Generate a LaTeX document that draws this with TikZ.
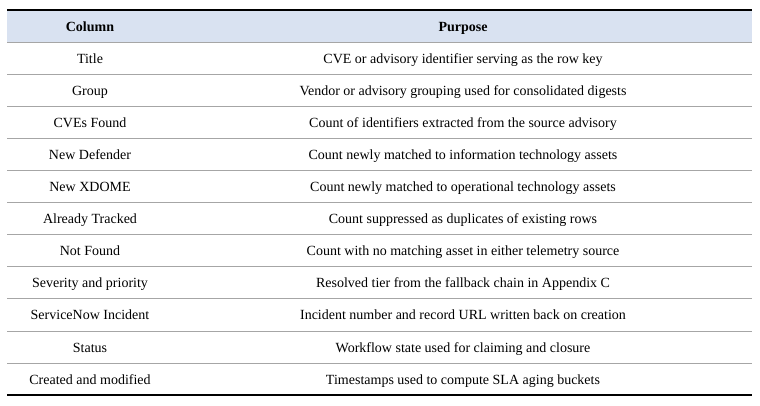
\documentclass[tikz,border=0pt]{standalone}
\usepackage{fontspec}
\setmainfont{Liberation Serif}
\definecolor{hdr}{HTML}{D9E2F1}
\definecolor{rule}{HTML}{A6A6A6}
\begin{document}
\begin{tikzpicture}[x=1pt,y=-1pt,
  txt/.style={font=\fontsize{14}{16}\selectfont,inner sep=0pt,anchor=base},
  hd/.style={txt,font=\fontsize{14}{16}\selectfont\bfseries}]
\useasboundingbox (0,0) rectangle (760,405);
\fill[hdr] (7,10) rectangle (752,42);
\draw[line width=1.2pt] (7,10) -- (752,10);
\draw[line width=1.2pt] (7,395) -- (752,395);
\draw[rule,line width=0.7pt] (7,42) -- (752,42);
\foreach \i in {1,...,10} \draw[rule,line width=0.7pt] (7,{42+32.1*\i}) -- (752,{42+32.1*\i});
\node[hd] (h1) at (90,31) {Column};
\node[hd] (h2) at (463,31) {Purpose};
\foreach \a/\b [count=\i] in {
 Title/CVE or advisory identifier serving as the row key,
 Group/Vendor or advisory grouping used for consolidated digests,
 CVEs Found/Count of identifiers extracted from the source advisory,
 New Defender/Count newly matched to information technology assets,
 New XDOME/Count newly matched to operational technology assets,
 Already Tracked/Count suppressed as duplicates of existing rows,
 Not Found/Count with no matching asset in either telemetry source,
 Severity and priority/Resolved tier from the fallback chain in Appendix C,
 ServiceNow Incident/Incident number and record URL written back on creation,
 Status/Workflow state used for claiming and closure,
 Created and modified/Timestamps used to compute SLA aging buckets}
 {
 \node[txt] (a\i) at (90,{31+32.1*\i}) {\a};
 \node[txt] (b\i) at (463,{31+32.1*\i}) {\b};
 }
\end{tikzpicture}
\end{document}
